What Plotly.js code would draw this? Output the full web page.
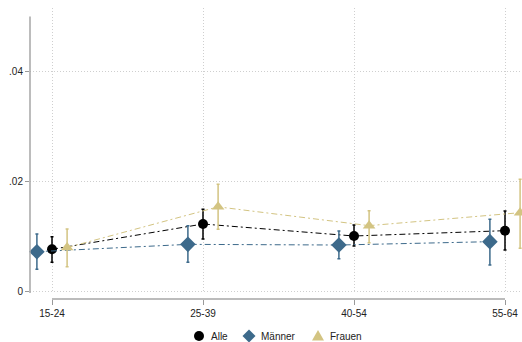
<!DOCTYPE html>
<html>
<head>
<meta charset="utf-8">
<script src="https://cdn.plot.ly/plotly-3.0.1.min.js"></script>
<style>html,body{margin:0;padding:0;background:#fff;}#chart{width:522px;height:342px;}</style>
</head>
<body>
<div id="chart"></div>
<script>
const categories = ['15-24', '25-39', '40-54', '55-64'];
const catPos = [0, 1, 2, 3];

const alleVal   = [0.00758, 0.01218, 0.01000, 0.01097];
const alleLo    = [0.00522, 0.00945, 0.00818, 0.00745];
const alleHi    = [0.00988, 0.01485, 0.01200, 0.01455];

const maennerVal = [0.00715, 0.00848, 0.00836, 0.00897];
const maennerLo  = [0.00394, 0.00521, 0.00588, 0.00473];
const maennerHi  = [0.01036, 0.01188, 0.01091, 0.01303];

const frauenVal = [0.00790, 0.01530, 0.01188, 0.01424];
const frauenLo  = [0.00442, 0.01121, 0.00879, 0.00776];
const frauenHi  = [0.01127, 0.01940, 0.01460, 0.02030];

const seriesNames = ['Alle', 'Männer', 'Frauen'];
const yTicks = [0, 0.02, 0.04];
const yTickText = ['0', '.02', '.04'];

const colors = ['#000000', '#3d6a8b', '#d3c482'];
const offset = 0.1;
const dashPat = '6px,3px,2px,3px';

function mk(name, vals, lo, hi, off, color, symbol, size) {
  return {
    type: 'scatter', mode: 'lines+markers', name: name, showlegend: false,
    x: catPos.map(p => p + off), y: vals,
    line: {color: color, width: 1, dash: dashPat},
    marker: {color: color, symbol: symbol, size: size},
    error_y: {type: 'data', symmetric: false,
      array: hi.map((h, i) => h - vals[i]),
      arrayminus: vals.map((v, i) => v - lo[i]),
      color: color, thickness: 1.5, width: 1.5},
    cliponaxis: false
  };
}

const traces = [
  mk(seriesNames[0], alleVal, alleLo, alleHi, 0, colors[0], 'circle', 10),
  mk(seriesNames[1], maennerVal, maennerLo, maennerHi, -offset, colors[1], 'diamond', 12),
  mk(seriesNames[2], frauenVal, frauenLo, frauenHi, offset, colors[2], 'triangle-up', 11)
];

// custom legend (pixel-placed markers + text)
const W = 522, H = 342, ML = 30, MR = 0, MT = 8, MB = 43;
const pw = W - ML - MR, ph = H - MT - MB;
const px2x = p => (p - ML) / pw;
const py2y = p => (H - MB - p) / ph;
const legY = 336;
const legMarkX = [199, 249, 318];
const legTextX = [209, 259, 328];
const legPaths = [
  null,
  'M0,6.5 L6.5,0 L0,-6.5 L-6.5,0 Z',
  'M-6,-4.5 L6,-4.5 L0,6 Z'
];

const shapes = [
  {type: 'line', xref: 'paper', x0: 0, x1: 0, yref: 'y', y0: -0.000364, y1: 0.0499,
   line: {color: '#a6a6a6', width: 1.5}},
  {type: 'line', xref: 'x', x0: 0, x1: 3, yref: 'paper', y0: 0, y1: 0,
   line: {color: '#a6a6a6', width: 1.5}}
];
const annotations = [];
seriesNames.forEach((n, i) => {
  const ax = px2x(legMarkX[i]), ay = py2y(legY);
  if (i === 0) {
    shapes.push({type: 'circle', xref: 'paper', yref: 'paper',
      xsizemode: 'pixel', ysizemode: 'pixel', xanchor: ax, yanchor: ay,
      x0: -5, x1: 5, y0: -5, y1: 5, fillcolor: colors[i], line: {width: 0}});
  } else {
    shapes.push({type: 'path', xref: 'paper', yref: 'paper',
      xsizemode: 'pixel', ysizemode: 'pixel', xanchor: ax, yanchor: ay,
      path: legPaths[i], fillcolor: colors[i], line: {width: 0}});
  }
  annotations.push({xref: 'paper', yref: 'paper', x: px2x(legTextX[i]), y: ay,
    xanchor: 'left', yanchor: 'middle', text: n, showarrow: false,
    font: {size: 10, color: '#222'}});
});

const layout = {
  width: W, height: H,
  margin: {l: ML, r: MR, t: MT, b: MB, autoexpand: false},
  paper_bgcolor: '#ffffff', plot_bgcolor: '#ffffff',
  font: {family: 'Liberation Sans, Arial, sans-serif', size: 10, color: '#222'},
  showlegend: false,
  xaxis: {
    range: [-0.1457, 3.1126], anchor: 'free', position: 0,
    tickvals: catPos, ticktext: categories,
    ticks: 'outside', ticklen: 5, tickcolor: '#999', tickwidth: 1,
    showline: false, zeroline: false,
    showgrid: true, gridcolor: '#cfcfcf', griddash: '1px,2px', gridwidth: 1,
    tickfont: {size: 10, color: '#222'}
  },
  yaxis: {
    domain: [0.0206, 1], range: [-0.000364, 0.051455],
    tickvals: yTicks, ticktext: yTickText,
    ticks: 'outside', ticklen: 4, tickcolor: '#999', tickwidth: 1,
    showline: false, zeroline: false,
    showgrid: true, gridcolor: '#cfcfcf', griddash: '1px,2px', gridwidth: 1,
    tickfont: {size: 10, color: '#222'}
  },
  shapes: shapes,
  annotations: annotations
};

Plotly.newPlot('chart', traces, layout, {displayModeBar: false, staticPlot: true});
</script>
</body>
</html>
